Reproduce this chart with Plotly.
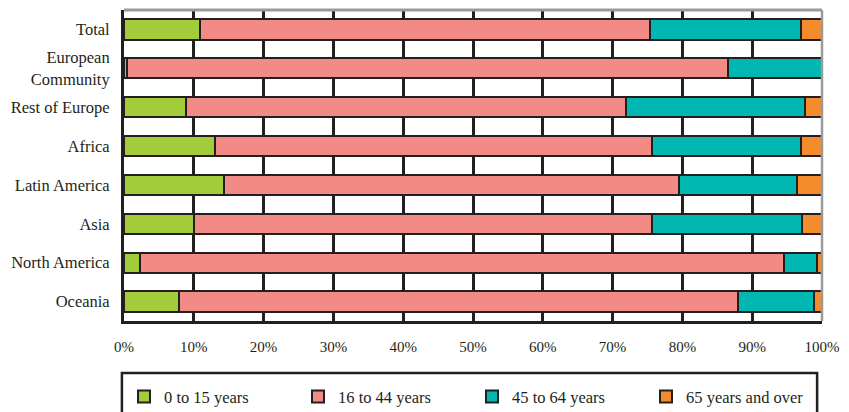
import plotly.graph_objects as go

categories = ["Total", "European<br>Community", "Rest of Europe", "Africa",
              "Latin America", "Asia", "North America", "Oceania"]
age_0_15 = [10.9, 0.5, 8.9, 13.0, 14.3, 10.0, 2.3, 7.9]
age_16_44 = [64.5, 86.1, 63.0, 62.7, 65.2, 65.7, 92.3, 80.0]
age_45_64 = [21.6, 13.4, 25.6, 21.3, 16.9, 21.4, 4.7, 10.9]
age_65_over = [3.0, 0.0, 2.5, 3.0, 3.6, 2.9, 0.7, 1.2]

series_names = ["0 to 15 years", "16 to 44 years", "45 to 64 years", "65 years and over"]
series_values = [age_0_15, age_16_44, age_45_64, age_65_over]
colors = ["#a2cc3a", "#f28a86", "#00b7b2", "#f48c2e"]

tick_vals = [0, 10, 20, 30, 40, 50, 60, 70, 80, 90, 100]
tick_text = ["0%", "10%", "20%", "30%", "40%", "50%", "60%", "70%", "80%", "90%", "100%"]

fig = go.Figure()
for name, vals, col in zip(series_names, series_values, colors):
    fig.add_trace(go.Bar(
        y=categories, x=vals, name=name, orientation="h",
        marker=dict(color=col, line=dict(color="#231f20", width=2)),
    ))

# page body has an 8px default margin; compensate so plot area sits at 124..822 x 10..321
fig.update_layout(
    barmode="stack",
    bargap=0.48,
    width=841, height=404,
    margin=dict(l=116, r=27, t=2, b=91, autoexpand=False),
    paper_bgcolor="white", plot_bgcolor="white",
    font=dict(family="Liberation Serif", size=15, color="#231f20"),
    legend=dict(
        orientation="h", x=0.0, xanchor="left", y=-0.244, yanchor="middle",
        borderwidth=0, bgcolor="rgba(0,0,0,0)", entrywidth=129,
        font=dict(size=16.5), traceorder="normal",
        itemclick=False,
    ),
    xaxis=dict(
        range=[0, 100], tickvals=tick_vals, ticktext=tick_text,
        showgrid=True, gridcolor="#231f20", gridwidth=2.5,
        showline=True, linecolor="#231f20", linewidth=3,
        zeroline=False, ticks="", ticklabelstandoff=10,
        tickfont=dict(size=15), automargin=False,
    ),
    yaxis=dict(
        categoryorder="array", categoryarray=categories, autorange="reversed",
        showgrid=False, showline=True, linecolor="#231f20", linewidth=3,
        ticks="", ticklabelstandoff=8, tickfont=dict(size=16.5), automargin=False,
    ),
    shapes=[
        dict(type="line", xref="paper", yref="paper", x0=0, x1=1, y0=1, y1=1,
             line=dict(color="#9a9a9a", width=3)),
        dict(type="line", xref="paper", yref="paper", x0=1, x1=1, y0=0, y1=1,
             line=dict(color="#9a9a9a", width=2.5)),
        dict(type="rect", xref="paper", yref="paper", x0=-0.003, x1=0.993,
             y0=-0.167, y1=-0.40, line=dict(color="#231f20", width=2.5),
             fillcolor="rgba(0,0,0,0)", layer="below"),
    ],
)

fig.write_html("out.html")
